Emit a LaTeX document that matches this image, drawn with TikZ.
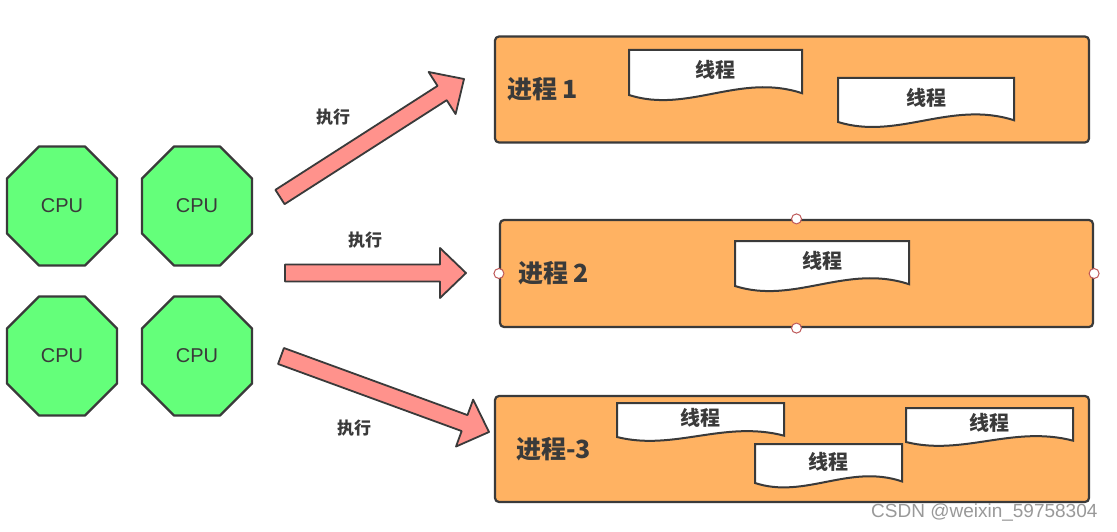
\documentclass[tikz,border=0pt]{standalone}
\usepackage{fontspec}
\setmainfont{Noto Sans CJK SC}
\newfontfamily\cpufont{Liberation Sans}
\usepackage{tikz}
\usetikzlibrary{shapes}
\usetikzlibrary{positioning}
\usetikzlibrary{calc}
\definecolor{cpugreen}{RGB}{100,255,122}
\definecolor{procorange}{RGB}{255,178,98}
\definecolor{arrowred}{RGB}{255,146,140}
\definecolor{edgegray}{RGB}{58,58,58}
\definecolor{handlered}{RGB}{190,90,90}

\newcommand{\cpuchip}[2]{%
  \draw[cpu_edge] (#2) ++(-23,-59.5) -- ++(46,0) -- ++(32,32) -- ++(0,55) -- ++(-32,32)
    -- ++(-46,0) -- ++(-32,-32) -- ++(0,-55) -- cycle;
  \node[cpu_text] (#1) at (#2) {CPU};
}
\newcommand{\threadbox}[5]{%
  \draw[thread_line] (#2,#3) -- ({#2+#4},#3) -- ({#2+#4},{#3+0.96*#5})
    .. controls ({#2+0.64*#4},{#3+0.5*#5}) and ({#2+0.34*#4},{#3+1.42*#5}) .. (#2,{#3+#5}) -- cycle;
  \node[thread_text] (#1) at ({#2+0.5*#4},{#3+0.45*#5}) {线程};
}
\newcommand{\runarrow}[2]{%
  \coordinate (head_base) at ($(#2)!26pt!(#1)$);
  \draw[run_arrow] ($(#1)!8.5pt!90:(#2)$) -- ($(head_base)!8.5pt!90:(#2)$) -- ($(head_base)!25pt!90:(#2)$)
    -- (#2) -- ($(head_base)!25pt!-90:(#2)$) -- ($(head_base)!8.5pt!-90:(#2)$) -- ($(#1)!8.5pt!-90:(#2)$) -- cycle;
}

\begin{document}
\begin{tikzpicture}[x=1pt, y=-1pt,
    cpu_edge/.style={draw=edgegray, line width=2.4pt, fill=cpugreen, line join=round},
    cpu_text/.style={font=\cpufont\fontsize{20}{24}\selectfont, text=edgegray},
    process/.style={draw=edgegray, line width=2.2pt, fill=procorange, rounded corners=4pt, minimum width=594pt, minimum height=106pt, inner sep=0pt},
    process_text/.style={font=\bfseries\fontsize{25}{30}\selectfont, text=edgegray, inner sep=0pt},
    thread_line/.style={draw=edgegray, line width=2pt, fill=white},
    thread_text/.style={font=\bfseries\fontsize{20}{24}\selectfont, text=edgegray},
    run_arrow/.style={draw=edgegray, line width=1.8pt, fill=arrowred, line join=round},
    run_text/.style={font=\bfseries\fontsize{17}{21}\selectfont, text=edgegray},
    handle/.style={circle, draw=handlered, line width=1pt, fill=white, minimum size=10pt, inner sep=0pt}]
        \useasboundingbox[fill=white] (0,0) rectangle (1117,532);

        \cpuchip{cpu_1}{62,206}
        \cpuchip{cpu_2}{197,206}
        \cpuchip{cpu_3}{62,356}
        \cpuchip{cpu_4}{197,356}

        \node[process] (proc_1) at (792,89.5) {};
        \node[process, minimum width=593pt, minimum height=107pt] (proc_2) at (796.5,273.5) {};
        \node[process] (proc_3) at (792,449) {};
        \node[process_text, right=13pt of proc_1.west] (proc_1_label) {进程 1};
        \node[process_text, right=19pt of proc_2.west] (proc_2_label) {进程 2};
        \node[process_text, right=22pt of proc_3.west] (proc_3_label) {进程-3};

        \threadbox{thread_1a}{629}{50}{173}{45}
        \threadbox{thread_1b}{838}{78}{176}{44}
        \threadbox{thread_2a}{735}{241}{174}{45}
        \threadbox{thread_3a}{617}{403}{167}{34}
        \threadbox{thread_3b}{755}{444}{147}{39}
        \threadbox{thread_3c}{906}{408}{167}{34}

        \node[handle] (handle_n) at (proc_2.north) {};
        \node[handle] (handle_s) at (proc_2.south) {};
        \node[handle] (handle_w) at (proc_2.west) {};
        \node[handle] (handle_e) at (proc_2.east) {};

        \coordinate (tail_1) at (280,197);
        \coordinate (tip_1) at (464,79);
        \coordinate (tail_2) at (285,273);
        \coordinate (tip_2) at (466,273);
        \coordinate (tail_3) at (281,356);
        \coordinate (tip_3) at (489,432);
        \runarrow{tail_1}{tip_1}
        \runarrow{tail_2}{tip_2}
        \runarrow{tail_3}{tip_3}
        \node[run_text] (run_1) at (333,117) {执行};
        \node[run_text] (run_2) at (365,240) {执行};
        \node[run_text] (run_3) at (354,428) {执行};

        \node[anchor=east, text=black!40, font=\cpufont\fontsize{19}{22}\selectfont] (watermark) at (1101,513) {CSDN @weixin\_59758304};
    \end{tikzpicture}
\end{document}
